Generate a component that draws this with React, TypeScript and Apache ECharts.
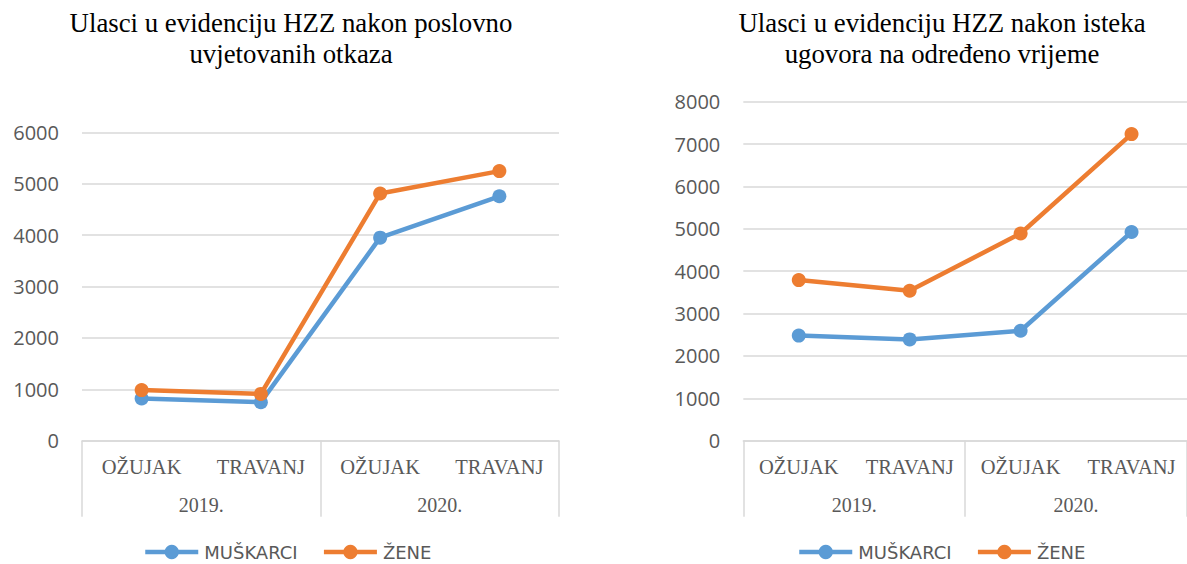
import React, { useEffect, useRef } from 'react';
import * as echarts from 'echarts';

const months = ['OŽUJAK', 'TRAVANJ', 'OŽUJAK', 'TRAVANJ'];
const years = ['2019.', '2020.'];
const seriesNames = ['MUŠKARCI', 'ŽENE'];
const leftTitle = 'Ulasci u evidenciju HZZ nakon poslovno\nuvjetovanih otkaza';
const rightTitle = 'Ulasci u evidenciju HZZ nakon isteka\nugovora na određeno vrijeme';
const leftMen = [820, 750, 3950, 4755];
const leftWomen = [985, 910, 4810, 5245];
const rightMen = [2480, 2390, 2595, 4925];
const rightWomen = [3790, 3540, 4890, 7235];
const leftMax = 6000;
const rightMax = 8000;
const tickStep = 1000;
const colors = ['#5b9bd5', '#ed7d31'];

const GRAY_TEXT = '#595959';
const GRID_LINE = '#d9d9d9';
const SANS = '"Open Sans", "Noto Sans", sans-serif';
const LEGEND_SANS = '"DejaVu Sans", "Open Sans", sans-serif';
const SERIF = '"Liberation Serif", "Times New Roman", serif';

function monthAxis(gridIndex: number) {
  return {
    type: 'category',
    gridIndex,
    position: 'bottom',
    data: months,
    boundaryGap: true,
    axisLine: { show: false },
    axisTick: { show: false },
    axisLabel: { interval: 0, margin: 16, color: GRAY_TEXT, fontFamily: SERIF, fontSize: 20.5 },
  };
}

function yearAxis(gridIndex: number) {
  return {
    type: 'category',
    gridIndex,
    position: 'bottom',
    data: years,
    boundaryGap: true,
    axisLine: { show: true, lineStyle: { color: GRID_LINE, width: 1.5 } },
    axisTick: { show: true, interval: 0, length: 76, alignWithLabel: false, lineStyle: { color: GRID_LINE, width: 1.5 } },
    axisLabel: { interval: 0, margin: 54, color: GRAY_TEXT, fontFamily: SERIF, fontSize: 20 },
  };
}

function valueAxis(gridIndex: number, max: number) {
  return {
    type: 'value',
    gridIndex,
    min: 0,
    max,
    interval: tickStep,
    axisLine: { show: false },
    axisTick: { show: false },
    splitLine: { show: true, lineStyle: { color: GRID_LINE, width: 1.5 } },
    axisLabel: {
      margin: 23,
      color: GRAY_TEXT,
      fontFamily: SANS,
      fontSize: 20,
      formatter: (v: number) => String(v),
    },
  };
}

function lineSeries(name: string, data: number[], xAxisIndex: number, yAxisIndex: number, color: string) {
  return {
    type: 'line',
    name,
    data,
    xAxisIndex,
    yAxisIndex,
    symbol: 'circle',
    symbolSize: 14,
    showSymbol: true,
    lineStyle: { color, width: 4.5 },
    itemStyle: { color },
  };
}

function legend(left: number) {
  return {
    data: seriesNames,
    left,
    top: 543,
    padding: 0,
    itemGap: 24,
    itemWidth: 53,
    itemHeight: 18,
    textStyle: { color: GRAY_TEXT, fontFamily: LEGEND_SANS, fontSize: 18, lineHeight: 18, padding: [0, 0, 0, 1] },
    lineStyle: { width: 4.5 },
  };
}

export default function App() {
  const ref = useRef<HTMLDivElement>(null);

  useEffect(() => {
    if (!ref.current) return;
    const chart = echarts.init(ref.current, null, { renderer: 'svg' });
    chart.setOption({
      animation: false,
      backgroundColor: '#ffffff',
      color: colors,
      title: [
        {
          text: leftTitle,
          left: 291,
          top: 7,
          padding: 0,
          textAlign: 'center',
          textStyle: { fontFamily: SERIF, fontSize: 26.8, fontWeight: 'normal', color: '#000000', lineHeight: 31 },
        },
        {
          text: rightTitle,
          left: 942,
          top: 7,
          padding: 0,
          textAlign: 'center',
          textStyle: { fontFamily: SERIF, fontSize: 26.8, fontWeight: 'normal', color: '#000000', lineHeight: 31 },
        },
      ],
      legend: [legend(143), legend(797)],
      grid: [
        { left: 82, top: 132.3, width: 477, height: 308.4, containLabel: false },
        { left: 743.3, top: 101.7, width: 456.8, height: 339, containLabel: false },
      ],
      xAxis: [monthAxis(0), yearAxis(0), monthAxis(1), yearAxis(1)],
      yAxis: [valueAxis(0, leftMax), valueAxis(1, rightMax)],
      series: [
        lineSeries(seriesNames[0], leftMen, 0, 0, colors[0]),
        lineSeries(seriesNames[1], leftWomen, 0, 0, colors[1]),
        lineSeries(seriesNames[0], rightMen, 2, 1, colors[0]),
        lineSeries(seriesNames[1], rightWomen, 2, 1, colors[1]),
      ],
    });
    return () => {
      chart.dispose();
    };
  }, []);

  return (
    <div
      ref={ref}
      style={{ position: 'fixed', left: 0, top: 0, width: 1187, height: 564, background: '#fff' }}
    />
  );
}
